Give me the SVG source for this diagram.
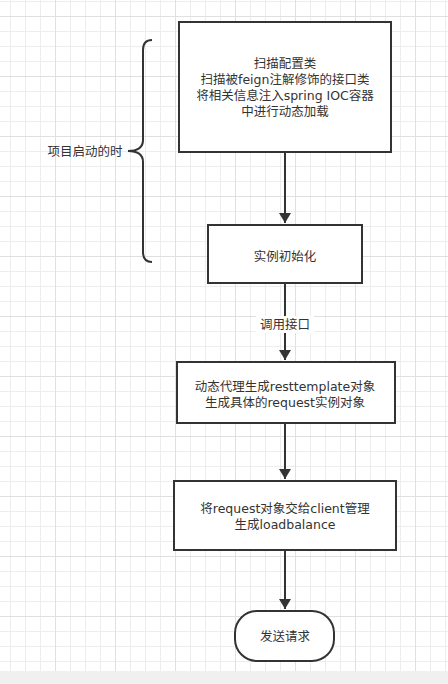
<svg xmlns="http://www.w3.org/2000/svg" width="448" height="684" viewBox="0 0 448 684">
<defs>
<pattern id="minor" x="10" y="1" width="15" height="15" patternUnits="userSpaceOnUse">
<path d="M0 0.5H15M0.5 0V15" fill="none" stroke="#ededed" stroke-width="1"/>
</pattern>
<pattern id="major" x="55" y="16" width="60" height="60" patternUnits="userSpaceOnUse">
<path d="M0 0.5H60M0.5 0V60" fill="none" stroke="#e0e0e0" stroke-width="1"/>
</pattern>
<marker id="arr" viewBox="0 0 10 12" refX="10" refY="6" markerWidth="10" markerHeight="12" markerUnits="userSpaceOnUse" orient="auto">
<path d="M0 0L10 6L0 12Z" fill="#333"/>
</marker>
<style>
.box{fill:#fff;stroke:#333;stroke-width:2}
.t{font-family:"DejaVu Sans","Noto Sans CJK SC",sans-serif;font-size:12.5px;fill:#333;text-anchor:middle;dominant-baseline:central}
.c{fill:none;stroke:#333;stroke-width:2}
</style>
</defs>
<rect width="448" height="684" fill="#fff"/>
<rect width="448" height="671" fill="url(#minor)"/>
<rect width="448" height="671" fill="url(#major)"/>
<rect y="671" width="448" height="13" fill="#f0f0f0"/>
<g id="connectors">
<path class="c" d="M285 152V223" marker-end="url(#arr)"/>
<path class="c" d="M285 283V360" marker-end="url(#arr)"/>
<rect x="256" y="316" width="58" height="17" fill="#fff"/>
<text class="t" x="285" y="324.5">调用接口</text>
<path class="c" d="M285 423V479" marker-end="url(#arr)"/>
<path class="c" d="M285 550V609" marker-end="url(#arr)"/>
</g>
<g id="brace">
<path class="c" d="M152 40Q143 40 143 50V140Q143 151 128 151Q143 151 143 162V252Q143 262 152 262"/>
<text class="t" x="85" y="151.5">项目启动的时</text>
</g>
<g id="n1">
<rect class="box" x="179" y="22" width="212" height="130"/>
<text class="t" x="285" y="63">扫描配置类</text>
<text class="t" x="285" y="79.5">扫描被feign注解修饰的接口类</text>
<text class="t" x="285" y="95.5">将相关信息注入spring IOC容器</text>
<text class="t" x="285" y="111">中进行动态加载</text>
</g>
<g id="n2">
<rect class="box" x="208" y="225" width="154" height="58"/>
<text class="t" x="285" y="256">实例初始化</text>
</g>
<g id="n3">
<rect class="box" x="177" y="362" width="218" height="61"/>
<text class="t" x="285" y="386.5">动态代理生成resttemplate对象</text>
<text class="t" x="285" y="402">生成具体的request实例对象</text>
</g>
<g id="n4">
<rect class="box" x="174" y="481" width="222" height="69"/>
<text class="t" x="285" y="508.5">将request对象交给client管理</text>
<text class="t" x="285" y="524">生成loadbalance</text>
</g>
<g id="n5">
<rect class="box" x="235" y="611" width="99" height="50" rx="22" ry="22"/>
<text class="t" x="285" y="636">发送请求</text>
</g>
</svg>
